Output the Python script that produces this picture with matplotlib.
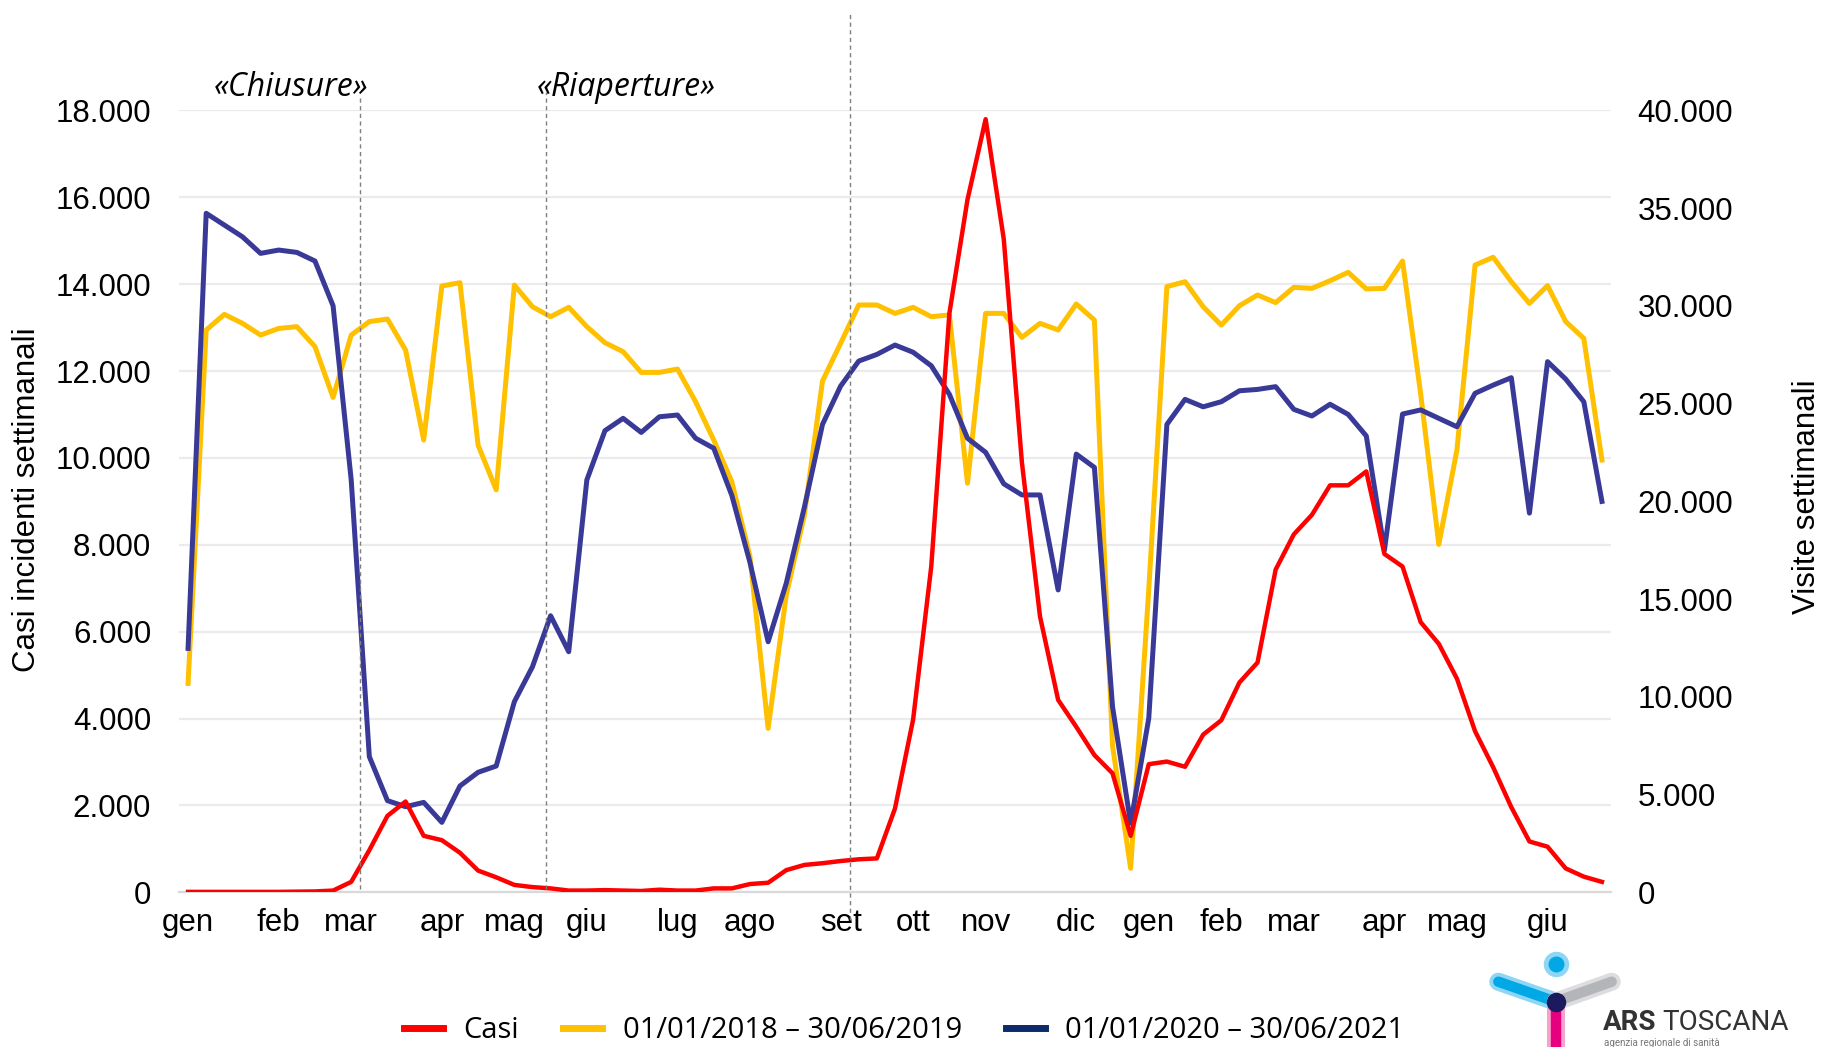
import matplotlib
matplotlib.use('Agg')
import matplotlib.pyplot as plt
import numpy as np
from matplotlib.lines import Line2D

plt.rcParams['font.family'] = ['Liberation Sans', 'DejaVu Sans']

# settimane da gen 2020 a giu 2021 (79 settimane)
casi = [10, 10, 10, 10, 10, 10, 15, 20, 40, 240, 970, 1760, 2090, 1300, 1200, 910,
        500, 345, 170, 120, 90, 40, 40, 50, 40, 30, 60, 40, 40, 90, 90, 190, 220,
        510, 630, 670, 720, 760, 780, 1930, 3980, 7500, 13330, 15950, 17800, 15040,
        9900, 6350, 4430, 3810, 3160, 2740, 1300, 2950, 3010, 2890, 3630, 3960, 4830,
        5290, 7430, 8240, 8690, 9370, 9370, 9690, 7790, 7500, 6220, 5720, 4920, 3710,
        2880, 1960, 1170, 1050, 550, 360, 240]

visite_2018_19 = [10690, 28770, 29570, 29110, 28510, 28850, 28940, 27920, 25320, 28510,
                  29200, 29330, 27740, 23140, 31020, 31190, 22880, 20590, 31070, 29960,
                  29450, 29930, 28940, 28120, 27660, 26600, 26600, 26770, 25100, 23140,
                  21000, 17170, 8390, 15200, 19300, 26160, 28090, 30050, 30050, 29620,
                  29930, 29450, 29540, 20930, 29620, 29620, 28390, 29110, 28770, 30100,
                  29280, 7500, 1230, 15500, 30990, 31240, 29960, 29020, 30010, 30560,
                  30170, 30950, 30900, 31290, 31720, 30870, 30900, 32300, 25500, 17800,
                  22630, 32090, 32490, 31240, 30130, 31040, 29200, 28340, 22120]

visite_2020_21 = [12480, 34740, 34140, 33540, 32690, 32860, 32740, 32300, 30010, 21100,
                  6940, 4690, 4380, 4600, 3580, 5440, 6140, 6460, 9750, 11540,
                  14150, 12310, 21100, 23620, 24250, 23530, 24330, 24420, 23230, 22720,
                  20300, 16870, 12820, 15810, 19700, 23940, 25900, 27180, 27520, 28000,
                  27630, 26940, 25480, 23230, 22510, 20900, 20330, 20330, 15470, 22420,
                  21740, 9500, 3530, 8900, 23940, 25220, 24840, 25100, 25660, 25730,
                  25870, 24710, 24370, 24970, 24450, 23350, 17500, 24470, 24680, 24250,
                  23820, 25530, 25950, 26330, 19400, 27150, 26260, 25100, 20000]

mesi = ['gen', 'feb', 'mar', 'apr', 'mag', 'giu', 'lug', 'ago', 'set', 'ott', 'nov',
        'dic', 'gen', 'feb', 'mar', 'apr', 'mag', 'giu']
mesi_pos = [0, 5, 9, 14, 18, 22, 27, 31, 36, 40, 44, 49, 53, 57, 61, 66, 70, 75]

ticks_sx = np.arange(0, 18001, 2000)
ticks_dx = np.arange(0, 40001, 5000)

ROSSO = '#FF0000'
GIALLO = '#FFC000'
BLU = '#393998'
NAVY = '#0D2A6B'

def fmt_it(v):
    return f'{int(v):,}'.replace(',', '.')

settimane = np.arange(len(casi))

W, H = 1824, 1047
fig = plt.figure(figsize=(W / 100, H / 100), dpi=100)
ax = fig.add_axes([179 / W, 1 - 892.3 / H, (1611 - 179) / W, (892.3 - 110.5) / H])
ax2 = ax.twinx()
ax3 = ax.twinx()

# asse sinistro: solo griglia e tick
ax.set_xlim(-0.5, 78.5)
ax.set_ylim(0, 18000)
ax.set_yticks(ticks_sx)
ax.set_yticklabels([fmt_it(v) for v in ticks_sx])
ax.set_xticks(mesi_pos)
ax.set_xticklabels(mesi)
ax.grid(axis='y', color='#EBEBEB', linewidth=1.6)
ax.set_axisbelow(True)
ax.tick_params(axis='y', length=0, pad=20, labelsize=22.5)
ax.tick_params(axis='x', length=0, pad=11, labelsize=22.5)
for s in ['top', 'left', 'right']:
    ax.spines[s].set_visible(False)
ax.spines['bottom'].set_color('#D9D9D9')
ax.spines['bottom'].set_linewidth(1.6)

# asse destro: visite
ax2.plot(settimane, visite_2018_19, color=GIALLO, linewidth=3.6, solid_joinstyle='round')
ax2.plot(settimane, visite_2020_21, color=BLU, linewidth=3.6, solid_joinstyle='round')
ax2.set_ylim(0, 40000)
ax2.set_yticks(ticks_dx)
ax2.set_yticklabels([fmt_it(v) for v in ticks_dx])
ax2.tick_params(axis='y', length=0, pad=19, labelsize=22.5)
for s in ax2.spines.values():
    s.set_visible(False)

# casi sopra le altre serie
ax3.plot(settimane, casi, color=ROSSO, linewidth=3.2, solid_joinstyle='round')
ax3.set_ylim(0, 18000)
ax3.set_yticks([])
for s in ax3.spines.values():
    s.set_visible(False)

# linee tratteggiate verticali
for xv, y0, y1 in [(9.5, 80, 18360), (19.75, 80, 18430), (36.5, -640, 20280)]:
    ax3.plot([xv, xv], [y0, y1], color='#7F7F7F', linestyle=(0, (3, 2.5)),
             linewidth=1.0, clip_on=False)

ax3.text(5.7, 18540, '«Chiusure»', fontsize=23, style='italic', ha='center',
         va='center', family=['Open Sans', 'DejaVu Sans'])
ax3.text(24.2, 18540, '«Riaperture»', fontsize=23, style='italic', ha='center',
         va='center', family=['Open Sans', 'DejaVu Sans'])

fig.text(27 / W, 1 - 500 / H, 'Casi incidenti settimanali', rotation=90,
         ha='center', va='center', fontsize=22.5)
fig.text(1807 / W, 1 - 497 / H, 'Visite settimanali', rotation=90,
         ha='center', va='center', fontsize=22.5)

handles = [Line2D([], [], color=ROSSO, linewidth=5),
           Line2D([], [], color=GIALLO, linewidth=5),
           Line2D([], [], color=NAVY, linewidth=5)]
labels = ['Casi', '01/01/2018 – 30/06/2019', '01/01/2020 – 30/06/2021']
fig.legend(handles, labels, loc='center', bbox_to_anchor=(904 / W, 1 - 1031 / H),
           ncol=3, frameon=False, prop={'family': ['Open Sans', 'DejaVu Sans'], 'size': 21},
           handlelength=1.35, handletextpad=0.7, columnspacing=1.5)

# logo ARS Toscana
lg = fig.add_axes([0, 0, 1, 1])
lg.set_xlim(0, W)
lg.set_ylim(H, 0)
lg.axis('off')
cx, cy = 1555.7, 1001.7
for (x0, y0), alone, core in [((1498.3, 981.7), '#8FD6F5', '#00A8E6'),
                              ((1611.7, 981.7), '#DDDDDF', '#B4B5B9'),
                              ((cx, 1070), '#F5A3CC', '#E6007E')]:
    lg.plot([cx, x0], [cy, y0], color=alone, linewidth=13, solid_capstyle='round')
    lg.plot([cx, x0], [cy, y0], color=core, linewidth=7.5, solid_capstyle='round')
lg.scatter([cx], [cy], s=170, color='#1B1A5E', zorder=5)
lg.scatter([cx], [964], s=300, color='#8FD6F5', zorder=5)
lg.scatter([cx], [964], s=110, color='#00A8E6', zorder=6)
lg.text(1603, 1022, 'ARS', fontsize=20, fontweight='bold', color='#333333',
        ha='left', va='center', family=['Liberation Sans Narrow', 'Roboto'])
lg.text(1662, 1022, 'TOSCANA', fontsize=20, color='#333333', ha='left', va='center',
        family=['Liberation Sans Narrow', 'Roboto'])
lg.text(1604, 1042.5, 'agenzia regionale di sanità', fontsize=7, color='#777777',
        ha='left', va='center', family=['Liberation Sans Narrow', 'Roboto'])

fig.savefig('out.png', dpi=100)
